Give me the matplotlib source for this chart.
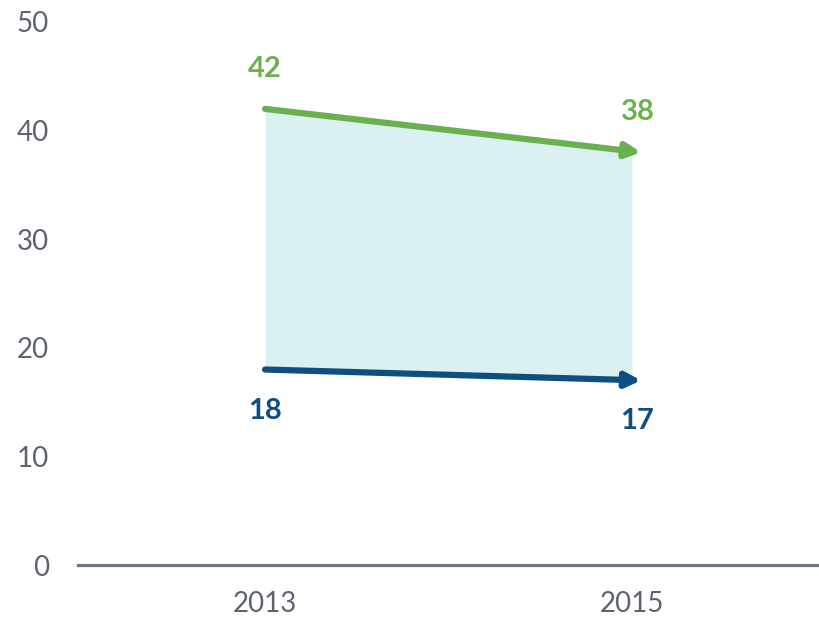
import matplotlib
matplotlib.use("Agg")
import matplotlib.pyplot as plt

years = ["2013", "2015"]
upper = [42, 38]
lower = [18, 17]
yticks = [0, 10, 20, 30, 40, 50]

green = "#6ab04f"
blue = "#0d4f80"
fill_c = "#daf0f1"
grey = "#5d6470"

plt.rcParams['font.family'] = ['Lato', 'DejaVu Sans']

fig = plt.figure(figsize=(8.19, 6.18), dpi=100)
ax = fig.add_axes([78/819, 53/618, 741/819, (565-22)/618])

x = list(range(len(years)))
ax.fill_between(x, lower, upper, color=fill_c, lw=0, zorder=1)

for vals, c in ((upper, green), (lower, blue)):
    ax.annotate('', xy=(x[1] + 0.025, vals[1]), xytext=(x[0], vals[0]),
                arrowprops=dict(arrowstyle='-|>', lw=4.5, color=c,
                                mutation_scale=22, shrinkA=0, shrinkB=0,
                                capstyle='round'), zorder=3)

lab = dict(ha='center', va='center', fontsize=21, fontweight='bold',
           textcoords='offset points')
ax.annotate(str(upper[0]), (x[0], upper[0]), xytext=(0, 29), color=green, **lab)
ax.annotate(str(upper[1]), (x[1], upper[1]), xytext=(4, 29), color=green, **lab)
ax.annotate(str(lower[0]), (x[0], lower[0]), xytext=(0, -30), color=blue, **lab)
ax.annotate(str(lower[1]), (x[1], lower[1]), xytext=(4, -29), color=blue, **lab)

ax.set_xlim(-0.51, 1.51)
ax.set_ylim(0, 50)
ax.set_xticks(x)
ax.set_xticklabels(years)
ax.set_yticks(yticks)
ax.tick_params(axis='both', length=0, labelsize=20, colors=grey)
ax.tick_params(axis='x', pad=19)
ax.tick_params(axis='y', pad=21)
for s in ('left', 'right', 'top'):
    ax.spines[s].set_visible(False)
ax.spines['bottom'].set_color("#6e7584")
ax.spines['bottom'].set_linewidth(2.3)
ax.set_facecolor('white')

fig.savefig("out.png", dpi=100)
